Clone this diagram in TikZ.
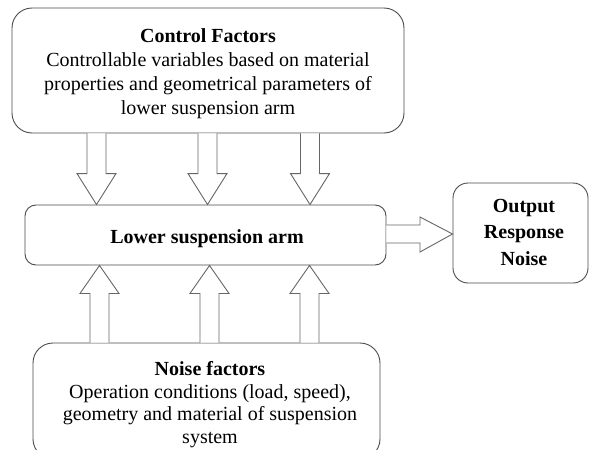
\documentclass[tikz,border=0pt]{standalone}
\usepackage{fontspec}
\setmainfont{Liberation Serif}
\usetikzlibrary{calc}
\begin{document}
\begin{tikzpicture}[x=1pt,y=-1pt,
  box/.style={draw=black!70,line width=0.9pt,rounded corners=#1,inner sep=0pt},
  blk/.style={draw=black!60,line width=0.9pt,line join=miter,fill=white},
  txt/.style={font=\fontsize{20}{24}\selectfont,align=center,inner sep=0pt,anchor=north}]
\clip (0,0) rectangle (590,450);
\fill[white] (0,0) rectangle (590,450);
\node[box=20pt,minimum width=392pt,minimum height=125pt] (top) at (208,70.5) {};
\node[box=11pt,minimum width=361pt,minimum height=60pt] (mid) at (205.5,235) {};
\node[box=15pt,minimum width=135pt,minimum height=100pt] (out) at (520.5,233) {};
\node[box=20pt,minimum width=347pt,minimum height=116pt] (bot) at (206.5,401) {};
\node[txt] (toptxt) at (208,28)
  {\textbf{Control Factors}\\Controllable variables based on material\\properties and geometrical parameters of\\lower suspension arm};
\node[txt,anchor=base] (midtxt) at (207,243) {\textbf{Lower suspension arm}};
\node[txt,font=\fontsize{20}{26.5}\selectfont\bfseries] (outtxt) at (524,199)
  {Output\\Response\\Noise};
\node[txt,font=\fontsize{20}{22.8}\selectfont] (bottxt) at (210,361)
  {\textbf{Noise factors}\\Operation conditions (load, speed),\\geometry and material of suspension\\system};
% down arrows
\foreach \cx in {96.5,207.5,310}{
  \draw[blk] (\cx-9.5,0 |- top.south) -- ($(\cx-9.5,0 |- mid.north)+(0,-31)$)
    -- ($(\cx-19.5,0 |- mid.north)+(0,-31)$) -- (\cx,0 |- mid.north)
    -- ($(\cx+19.5,0 |- mid.north)+(0,-31)$) -- ($(\cx+9.5,0 |- mid.north)+(0,-31)$)
    -- (\cx+9.5,0 |- top.south);
}
% up arrows
\foreach \cx in {99.5,209.5,309.5}{
  \draw[blk] (\cx-9.5,0 |- bot.north) -- ($(\cx-9.5,0 |- mid.south)+(0,28)$)
    -- ($(\cx-19.5,0 |- mid.south)+(0,28)$) -- (\cx,0 |- mid.south)
    -- ($(\cx+19.5,0 |- mid.south)+(0,28)$) -- ($(\cx+9.5,0 |- mid.south)+(0,28)$)
    -- (\cx+9.5,0 |- bot.north);
}
% right arrow
\draw[blk] (mid.east |- 0,225) -- (420,225) -- (420,217) -- (out.west |- 0,234)
  -- (420,252) -- (420,243) -- (mid.east |- 0,243);
\end{tikzpicture}
\end{document}
